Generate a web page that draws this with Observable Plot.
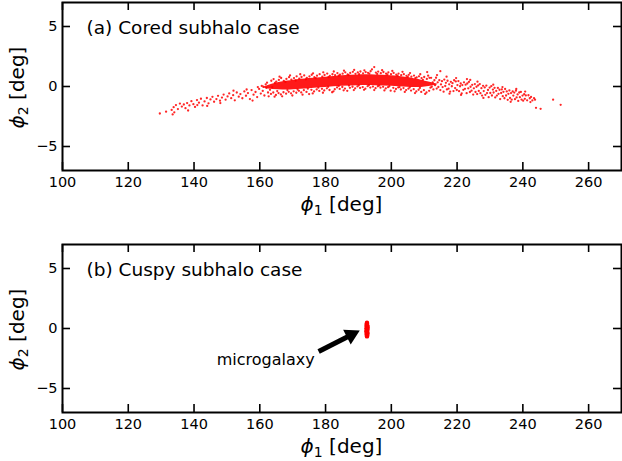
<!DOCTYPE html>
<html>
<head>
<meta charset="utf-8">
<script src="https://cdn.jsdelivr.net/npm/d3@7"></script>
<script src="https://cdn.jsdelivr.net/npm/@observablehq/plot@0.6"></script>
<style>
  html, body { margin: 0; padding: 0; background: white; }
  svg { display: block; }
</style>
</head>
<body>
<div id="chart"></div>
<script>
// ---------- data ----------
const xTicks = [100, 120, 140, 160, 180, 200, 220, 240, 260];
const yTicks = [-5, 0, 5];
const panelTitles = ["(a) Cored subhalo case", "(b) Cuspy subhalo case"];
const xLabelParts = ["ϕ", "1", "[deg]"];
const yLabelParts = ["ϕ", "2", "[deg]"];

// (a) dense core of the stream: envelope of the saturated band [phi1, lower phi2, upper phi2]
const coreEnvelope = [
  [161, -0.12, -0.08], [164, -0.28, 0.22], [167, -0.3, 0.4], [170, -0.28, 0.52], [175, -0.18, 0.66],
  [180, -0.08, 0.78], [185, 0.02, 0.9], [190, 0.08, 0.98], [195, 0.08, 0.98],
  [200, 0.02, 0.9], [205, -0.08, 0.76], [209, -0.12, 0.55], [214, 0.12, 0.2]
];

// (a) individual stream stars [phi1, phi2]
const streamStars = [
  [129.6,-2.25],[131.5,-2.1],[133.5,-2.33],[133.2,-1.95],[133.8,-1.72],[134.0,-2.15],[134.5,-1.55],[135.1,-1.88],
  [135.7,-1.42],[136.3,-1.67],[136.9,-1.50],[137.4,-1.81],[137.9,-1.38],[138.2,-2.0],[138.6,-1.58],[139.2,-1.22],
  [139.8,-1.47],[140.3,-1.70],[140.9,-1.13],[141.0,-1.55],[141.5,-1.35],[142.1,-1.02],[142.6,-1.58],[143.2,-1.24],
  [143.9,-0.96],[144.0,-1.62],[144.4,-1.40],[145.0,-1.08],[145.6,-0.86],[146.1,-1.27],[146.8,-1.05],[147.3,-0.78],
  [147.9,-1.18],[148.0,-1.38],[148.5,-0.92],[149.0,-0.67],[149.6,-1.10],[150.2,-0.83],[150.7,-0.58],[151.3,-0.97],
  [151.9,-0.72],[152.0,-0.35],[152.4,-1.15],[153.0,-0.50],[153.6,-0.85],[154.1,-0.63],[154.7,-0.98],[155.3,-0.41],
  [155.8,-0.77],[156.0,-0.25],[156.4,-0.55],[157.0,-1.05],[157.5,-0.30],[157.8,-1.17],[158.1,-0.68],[158.7,-0.46],
  [159.2,-0.88],[159.8,-0.20],[160.3,-0.59],[160.9,-0.37],[161.4,-0.75],[162.0,-0.12],[162.5,-0.50],[163.1,-0.28],
  [160.6,0.05],[161.8,0.18],[162.7,-0.82],[161.1,-0.02],[159.4,-0.05],[162.2,0.32],[163.8,-0.05],
  // upper edge of the core
  [163.5,0.48],[164.2,0.62],[165.0,0.40],[165.8,0.55],[166.5,0.71],[167.3,0.47],[168.1,0.63],[168.9,0.78],
  [169.6,0.58],[170.4,0.70],[171.2,0.85],[172.0,0.66],[172.7,0.79],[173.5,0.92],[174.3,0.72],[175.1,0.84],
  [175.8,0.98],[176.6,0.77],[177.4,0.90],[178.2,1.03],[179.0,0.83],[179.7,0.96],[180.5,1.08],[181.3,0.89],
  [182.1,1.02],[182.9,0.94],[183.6,1.12],[184.4,0.98],[185.2,1.07],[186.0,1.18],[186.7,1.01],[187.5,1.13],
  [188.3,1.22],[189.1,1.06],[189.8,1.17],[190.6,1.25],[191.4,1.10],[192.2,1.20],[192.9,1.14],[193.7,1.27],
  [194.8,1.62],[195.3,1.16],[196.0,1.24],[196.8,1.11],[197.6,1.21],[198.4,1.07],[199.1,1.18],[199.9,1.03],
  [200.7,1.13],[201.5,0.98],[202.2,1.08],[203.0,0.94],[203.8,1.03],[204.6,0.89],[205.3,0.97],[206.1,0.82],
  [206.9,0.91],[207.7,0.76],[208.4,0.85],[209.2,0.70],[210.0,0.79],[210.9,1.20],[210.8,0.63],[211.6,0.72],
  [214.9,1.28],
  [164.6,0.30],[166.0,0.82],[167.8,0.38],[169.2,0.92],[170.9,0.50],[172.3,1.02],[174.0,0.60],[176.2,1.10],
  [177.0,0.70],[179.3,1.18],[180.9,0.78],[182.5,1.25],[184.0,0.90],[185.6,1.32],[187.0,0.95],[188.7,1.38],
  [190.2,1.02],[191.8,1.35],[193.3,1.08],[194.1,1.42],[195.7,1.05],[197.2,1.36],[198.8,1.00],[200.3,1.30],
  [201.9,0.90],[203.4,1.22],[205.0,0.80],[205.7,1.12],[207.3,0.70],[208.8,1.02],[209.6,0.55],[211.2,0.90],
  // lower edge of the core
  [163.4,-0.62],[164.1,-0.50],[164.9,-0.71],[165.7,-0.55],[166.4,-0.66],[167.2,-0.48],[168.0,-0.60],[168.8,-0.44],
  [169.5,-0.57],[170.3,-0.40],[171.1,-0.52],[171.9,-0.36],[172.6,-0.49],[173.4,-0.31],[174.2,-0.45],[175.0,-0.63],
  [175.7,-0.28],[176.5,-0.41],[177.3,-0.24],[178.1,-0.37],[178.9,-0.19],[179.6,-0.33],[180.4,-0.15],[181.2,-0.29],
  [182.0,-0.48],[182.8,-0.23],[183.5,-0.08],[184.3,-0.20],[185.1,-0.04],[185.9,-0.17],[186.6,-0.36],[187.4,-0.11],
  [188.2,-0.02],[189.0,-0.15],[189.7,0.01],[190.5,-0.12],[191.3,-0.05],[192.1,-0.18],[192.8,0.03],[193.6,-0.09],
  [194.4,-0.01],[195.2,-0.14],[195.9,0.02],[196.7,-0.10],[197.5,-0.03],[198.3,-0.16],[199.0,-0.06],[199.8,-0.35],
  [200.6,-0.11],[201.4,-0.21],[202.1,-0.08],[202.9,-0.25],[203.7,-0.13],[204.5,-0.30],[205.2,-0.18],[206.0,-0.34],
  [206.8,-0.22],[207.6,-0.41],[208.3,-0.27],[209.1,-0.45],[209.9,-0.31],[210.7,-0.50],[211.5,-0.36],
  [164.5,-0.85],[165.3,-0.38],[166.8,-0.82],[168.4,-0.30],[169.9,-0.75],[171.5,-0.25],[173.0,-0.68],[174.6,-0.18],
  [176.1,-0.58],[177.8,-0.10],[179.2,-0.52],[180.8,-0.02],[182.4,-0.40],[184.0,0.05],[185.5,-0.32],[187.1,0.08],
  [188.6,-0.30],[190.1,0.10],[191.7,-0.28],[193.2,0.12],[194.8,-0.30],[196.3,0.08],[197.9,-0.33],[199.4,0.02],
  [201.0,-0.40],[202.5,-0.05],[204.1,-0.45],[205.6,-0.08],[207.2,-0.55],[208.7,-0.12],[210.3,-0.62],[211.9,-0.10],
  // trailing arm
  [212.1,0.72],[212.3,-0.02],[212.6,0.35],[212.8,-0.24],[213.1,0.52],[213.3,0.11],[213.6,0.73],[213.8,-0.17],
  [214.1,0.35],[214.3,-0.04],[214.6,0.53],[214.9,-0.30],[215.1,0.17],[215.4,0.44],[215.6,-0.05],[215.9,-0.43],
  [216.1,0.58],[216.4,0.04],[216.6,0.31],[216.9,-0.24],[217.1,0.48],[217.4,-0.18],[217.6,0.18],[217.9,-0.42],
  [218.1,0.39],[218.4,0.02],[218.6,0.28],[218.9,-0.38],[219.1,0.52],[219.4,-0.13],[219.6,0.42],[219.9,-0.29],
  [220.1,0.12],[220.4,0.45],[220.6,-0.39],[220.9,0.02],[221.1,0.25],[221.4,-0.58],[221.6,0.12],[221.9,-0.28],
  [222.1,0.35],[222.4,-0.19],[222.6,0.15],[222.9,-0.56],[223.1,0.25],[223.4,-0.15],[223.6,0.38],[223.9,-0.46],
  [224.1,-0.02],[224.4,-0.35],[224.6,0.14],[224.9,-0.67],[225.1,-0.15],[225.4,0.20],[225.6,-0.46],[225.9,-0.02],
  [226.1,-0.63],[226.4,0.09],[226.6,-0.37],[226.9,0.20],[227.1,-0.56],[227.4,-0.14],[227.6,-0.76],[227.9,0.06],
  [228.1,-0.38],[228.4,-0.08],[228.6,-0.69],[228.9,0.08],[229.1,-0.55],[229.4,-0.29],[229.6,-0.89],[229.9,-0.09],
  [230.1,-0.54],[230.4,0.03],[230.6,-0.75],[230.9,-0.26],[231.1,-0.50],[231.4,-0.11],[231.6,-0.91],[231.9,-0.37],
  [232.1,-0.76],[232.4,-0.12],[232.6,-0.61],[232.9,-0.27],[233.1,-1.05],[233.4,-0.54],[233.6,-0.24],[233.9,-0.81],
  [234.1,-0.44],[234.4,-0.98],[234.6,-0.21],[234.9,-0.75],[235.1,-0.41],[235.4,-1.11],[235.6,-0.61],[235.9,-0.33],
  [236.1,-0.95],[236.4,-0.55],[236.6,-1.10],[236.9,-0.41],[237.1,-0.76],[237.4,-0.51],[237.6,-1.06],[237.9,-0.35],
  [238.1,-0.91],[238.4,-0.66],[238.6,-1.20],[238.9,-0.50],[239.1,-0.89],[239.4,-0.45],[239.6,-1.09],[239.9,-0.76],
  [240.1,-1.18],[240.4,-0.64],[240.6,-1.03],[240.9,-0.74],[241.3,-1.15],[241.7,-0.73],[242.1,-0.98],[242.5,-0.87],
  [242.9,-1.16],[243.4,-0.97],[243.7,-1.10],[244.0,-1.78],[245.4,-1.86],[249.2,-1.10],[251.5,-1.53],
  [213.9,0.95],[216.8,0.82],[219.7,0.70],[221.2,-0.70],[224.0,0.55],[226.2,0.40],[228.0,-0.95],[231.0,0.15],
  [233.8,-0.05],[236.3,-1.28],[238.0,-0.20],[240.7,-0.42],[242.3,-1.30],[217.7,-0.60],[223.0,0.62]
];

// (b) compact microgalaxy stars [phi1, phi2]
const microStars = [
  [192.6,-0.13],[192.5,0.30],[192.7,0.25],[192.5,-0.50],[192.7,-0.55],[192.45,0.00],[192.75,-0.10],[192.6,0.42],
  [192.6,-0.66],[192.45,-0.30],[192.75,-0.35],[192.5,0.15],[192.7,0.10],[192.45,-0.18],[192.75,0.05],[192.6,0.48],
  [192.6,-0.60],[192.55,0.38],[192.65,-0.45],[192.6,0.00],[192.6,0.25],[192.6,-0.40],[192.55,-0.25],[192.65,0.18]
];

// (b) annotation
const annotationText = ["microgalaxy"];
const arrowTail = [177.9, -1.92];
const arrowTip = [190.4, -0.17];

// ---------- layout ----------
const W = 622, ML = 62, MR = 1;
const xDomain = [100, 270], yDomain = [-7, 7];
const plotH = 168, plotW = W - ML - MR, tickLen = 8;
const kx = plotW / (xDomain[1] - xDomain[0]);
const ky = plotH / (yDomain[1] - yDomain[0]);

function frameMarks() {
  return [
    Plot.axisX(xTicks, {tickSize: 0, tickPadding: 6, label: null}),
    Plot.axisY(yTicks, {tickSize: 0, tickPadding: 5, label: null}),
    Plot.tickX(xTicks, {x: d => d, insetTop: plotH - tickLen, stroke: "black", strokeWidth: 1.6}),
    Plot.tickX(xTicks, {x: d => d, insetBottom: plotH - tickLen, stroke: "black", strokeWidth: 1.6}),
    Plot.tickY(yTicks, {y: d => d, insetRight: plotW - tickLen, stroke: "black", strokeWidth: 1.6}),
    Plot.tickY(yTicks, {y: d => d, insetLeft: plotW - tickLen, stroke: "black", strokeWidth: 1.6}),
    Plot.frame({stroke: "black", strokeWidth: 2})
  ];
}

function makePanel(height, marginTop, title, marks) {
  const svg = Plot.plot({
    width: W, height, marginLeft: ML, marginRight: MR, marginTop,
    marginBottom: height - marginTop - plotH,
    x: {domain: xDomain}, y: {domain: yDomain},
    style: {fontFamily: "DejaVu Sans", fontSize: "14.5px", color: "black", background: "white", overflow: "visible"},
    marks: [
      ...marks,
      Plot.text([title], {text: d => d, frameAnchor: "top-left", dx: 24, dy: 18, lineAnchor: "top",
        textAnchor: "start", fontSize: 18.5, fill: "black"}),
      ...frameMarks()
    ]
  });
  const s = d3.select(svg);
  const y0 = marginTop, y1 = marginTop + plotH;
  const xl = s.append("text").attr("x", ML + plotW / 2).attr("y", y1 + 41)
    .attr("text-anchor", "middle").attr("font-size", 20).attr("fill", "black")
    .attr("font-family", "DejaVu Sans");
  xl.append("tspan").attr("font-style", "italic").text(xLabelParts[0]);
  xl.append("tspan").attr("font-size", 14).attr("dy", 3.5).text(xLabelParts[1]);
  xl.append("tspan").attr("dy", -3.5).text(" " + xLabelParts[2]);
  const yl = s.append("text").attr("transform", `translate(24,${(y0 + y1) / 2 + 1.5}) rotate(-90)`)
    .attr("text-anchor", "middle").attr("font-size", 20).attr("fill", "black")
    .attr("font-family", "DejaVu Sans");
  yl.append("tspan").attr("font-style", "italic").text(yLabelParts[0]);
  yl.append("tspan").attr("font-size", 14).attr("dy", 3.5).text(yLabelParts[1]);
  yl.append("tspan").attr("dy", -3.5).text(" " + yLabelParts[2]);
  return svg;
}

// arrow geometry (pixel direction from data through the scale factors)
const dxPx = (arrowTip[0] - arrowTail[0]) * kx;
const dyPx = -(arrowTip[1] - arrowTail[1]) * ky;
const len = Math.hypot(dxPx, dyPx);
const ux = dxPx / len, uy = dyPx / len;
const headHalf = 4.8; // d3 triangle: tip at 2*h from centroid, base at h behind
const headR = Math.sqrt(headHalf * headHalf * 3 * Math.sqrt(3) / Math.PI);
const rot = Math.atan2(dxPx, -dyPx) * 180 / Math.PI;
const shaftEnd = [arrowTip[0] - 2.6 * headHalf * ux / kx, arrowTip[1] + 2.6 * headHalf * uy / ky];

const topPanel = makePanel(222, 2, panelTitles[0], [
  Plot.areaY(coreEnvelope, {x: d => d[0], y1: d => d[1], y2: d => d[2], curve: "basis", fill: "red", fillOpacity: 0.9}),
  Plot.dot(streamStars, {x: d => d[0], y: d => d[1], r: 1.15, fill: "red", fillOpacity: 0.85})
]);

const bottomPanel = makePanel(239, 22, panelTitles[1], [
  Plot.dot(microStars, {x: d => d[0], y: d => d[1], r: 2.2, fill: "red"}),
  Plot.link([0], {x1: arrowTail[0], y1: arrowTail[1], x2: shaftEnd[0], y2: shaftEnd[1], stroke: "black", strokeWidth: 5}),
  Plot.dot([0], {x: arrowTip[0], y: arrowTip[1], symbol: "triangle", r: headR, rotate: rot, fill: "black",
    dx: -2 * headHalf * ux, dy: -2 * headHalf * uy}),
  Plot.text(annotationText, {text: d => d, x: arrowTail[0], y: arrowTail[1], textAnchor: "end", lineAnchor: "top",
    dx: -4, dy: 2, fontSize: 16, fill: "black"})
]);

document.getElementById("chart").append(topPanel, bottomPanel);
</script>
</body>
</html>
